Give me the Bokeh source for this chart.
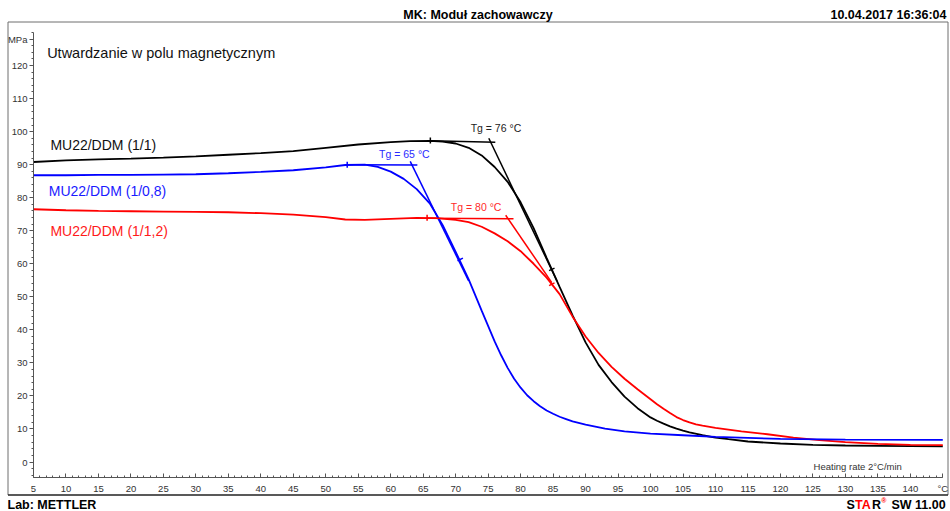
import math
from bokeh.plotting import figure
from bokeh.models import Range1d, LinearAxis, FixedTicker
from bokeh.core.properties import value
from bokeh.embed import file_html
from bokeh.resources import INLINE

# ---------------- data ----------------
temp_black = [5, 10, 15, 20, 25, 30, 35, 40, 45, 50, 55, 60, 63, 66, 68, 70, 72, 74, 76, 78,
              80, 82, 84, 86, 88, 90, 92, 94, 96, 98, 100, 101, 102, 103, 104, 105, 106, 108,
              110, 112, 115, 120, 125, 130, 135, 140, 145]
mod_black = [90.8, 91.3, 91.6, 91.8, 92.1, 92.5, 93.0, 93.5, 94.1, 95.1, 96.1, 96.8, 97.1, 97.2,
             97.0, 96.4, 95.1, 92.8, 89.3, 84.8, 78.6, 70.8, 61.8, 53.0, 44.4, 36.2, 29.4, 24.2,
             19.8, 16.3, 13.5, 12.5, 11.6, 10.8, 10.1, 9.5, 9.0, 8.1, 7.4, 6.9, 6.2, 5.6, 5.2,
             5.0, 4.9, 4.8, 4.7]

temp_blue = [5, 10, 15, 20, 25, 30, 35, 40, 45, 50, 53, 56, 58, 60, 62, 64, 66, 68, 70, 72, 74,
             76, 77, 78, 79, 80, 81, 82, 83, 84, 85, 86, 87, 88, 90, 93, 96, 100, 105, 110, 115,
             120, 130, 145]
mod_blue = [86.8, 86.8, 86.9, 86.9, 87.0, 87.1, 87.4, 87.8, 88.3, 89.2, 89.9, 90.0, 89.3, 87.9,
            85.7, 82.6, 78.3, 71.7, 63.6, 55.3, 45.8, 36.5, 32.3, 28.5, 25.2, 22.5, 20.2, 18.4,
            16.9, 15.6, 14.6, 13.7, 13.0, 12.3, 11.3, 10.1, 9.3, 8.6, 8.1, 7.6, 7.3, 7.0, 6.8,
            6.7]

temp_red = [5, 10, 15, 20, 25, 30, 35, 40, 45, 50, 53, 56, 60, 64, 67, 70, 72, 74, 76, 78, 80,
            82, 84, 86, 88, 90, 92, 94, 96, 98, 100, 101, 102, 103, 104, 105, 106, 107, 108,
            110, 114, 118, 122, 126, 130, 135, 140, 145]
mod_red = [76.5, 76.2, 76.0, 75.9, 75.8, 75.7, 75.6, 75.3, 74.9, 74.1, 73.4, 73.3, 73.6, 73.9,
           73.8, 73.3, 72.6, 71.2, 69.2, 66.8, 63.8, 60.0, 55.8, 50.8, 44.0, 38.0, 33.0, 28.8,
           25.2, 22.0, 19.0, 17.5, 16.1, 14.8, 13.6, 12.7, 12.0, 11.4, 11.0, 10.3, 9.3, 8.4,
           7.4, 6.6, 6.0, 5.5, 5.2, 5.1]

# Tg evaluation constructions: baseline and tangent segments, limit marks
base_black = ([66.1, 76.1], [97.2, 96.8])
tang_black = ([75.1, 85.6], [98.0, 54.8])
marks_black = ([66.1, 84.8], [97.3, 58.3])
base_blue = ([53.3, 64.1], [90.0, 89.9])
tang_blue = ([63.0, 72.0], [91.0, 54.8])
marks_blue = ([53.3, 70.7], [90.0, 61.3])
base_red = ([65.6, 78.9], [73.8, 73.6])
tang_red = ([77.7, 84.8], [74.7, 54.3])
marks_red = ([65.6, 84.8], [73.9, 53.8])

tg_text = ["Tg = 76 °C", "Tg = 65 °C", "Tg = 80 °C"]
tg_pos_x = [76.2, 62.1, 73.15]
tg_pos_y = [101.0, 93.3, 77.1]

series_names = ["MU22/DDM (1/1)", "MU22/DDM (1/0,8)", "MU22/DDM (1/1,2)"]
series_pos_x = [7.6, 7.35, 7.6]
series_pos_y = [96.1, 82.0, 69.9]

x_ticks = list(range(5, 146, 5))
x_minor = list(range(5, 146))
y_ticks = list(range(0, 121, 10)) + [128]
y_minor = list(range(-4, 131, 2))
x_overrides = {145: "°C"}
y_overrides = {128: "MPa"}

subtitle = "Utwardzanie w polu magnetycznym"
header = "MK: Moduł zachowawczy"
date_text = "10.04.2017 16:36:04"
lab_text = "Lab: METTLER"
rate_text = "Heating rate 2°C/min"

# ---------------- layout ----------------
W, H = 950, 511
X_MIN, X_MAX = 5, 145
Y_MIN, Y_MAX = -4.6, 130
PX_XL, PX_XR = 33, 942.3     # pixel of X_MIN / X_MAX
PX_YT, PX_YB = 32, 476.7     # pixel of Y_MAX / Y_MIN
SX = (PX_XR - PX_XL) / (X_MAX - X_MIN)
SY = (PX_YB - PX_YT) / (Y_MAX - Y_MIN)


def fx(px):
    return X_MIN + (px - PX_XL) / SX


def fy(py):
    return Y_MAX - (py - PX_YT) / SY


FONT = value("Liberation Sans")
BLACK, BLUE, RED = "#000000", "#0000ff", "#ff0000"

p = figure(width=W, height=H,
           x_range=Range1d(fx(0), fx(W)), y_range=Range1d(fy(H), fy(0)),
           output_backend="svg", toolbar_location=None,
           x_axis_location=None, y_axis_location=None,
           min_border_left=0, min_border_right=0, min_border_top=0, min_border_bottom=0)
p.outline_line_color = None
p.background_fill_color = "white"
p.border_fill_color = "white"
p.grid.visible = False

# outer frame
bl, br, bt, bb = 7.5, 947.5, 21.5, 494.5
p.segment(x0=[fx(bl), fx(bl), fx(br)], y0=[fy(bt), fy(bt), fy(bt)],
          x1=[fx(br), fx(bl), fx(br)], y1=[fy(bt), fy(bb), fy(bb)],
          line_color="#6e6e6e", line_width=1)
p.segment(x0=[fx(bl)], y0=[fy(bb)], x1=[fx(br)], y1=[fy(bb)], line_color="#222222", line_width=1.3)

# axes
xaxis = LinearAxis(fixed_location=Y_MIN, bounds=(X_MIN, X_MAX),
                   ticker=FixedTicker(ticks=x_ticks, minor_ticks=x_minor),
                   major_label_overrides=x_overrides)
xaxis.major_tick_in, xaxis.major_tick_out = 4, 0
xaxis.minor_tick_in, xaxis.minor_tick_out = 2, 0
xaxis.major_label_standoff = 6
yaxis = LinearAxis(fixed_location=X_MIN, bounds=(Y_MIN, Y_MAX),
                   ticker=FixedTicker(ticks=y_ticks, minor_ticks=y_minor),
                   major_label_overrides=y_overrides)
yaxis.major_tick_in, yaxis.major_tick_out = 0, 4
yaxis.minor_tick_in, yaxis.minor_tick_out = 0, 2
yaxis.major_label_standoff = 2
for ax in (xaxis, yaxis):
    ax.axis_line_color = "#555555"
    ax.major_tick_line_color = "#555555"
    ax.minor_tick_line_color = "#555555"
    ax.major_label_text_font = "Liberation Sans"
    ax.major_label_text_font_size = "9.5px"
    ax.major_label_text_color = "#333333"
p.add_layout(xaxis, "below")
p.add_layout(yaxis, "left")

# curves
p.line(temp_black, mod_black, line_color=BLACK, line_width=1.8)
p.line(temp_red, mod_red, line_color=RED, line_width=1.8)
p.line(temp_blue, mod_blue, line_color=BLUE, line_width=1.8)

# constructions
for base, tang, marks, col in ((base_black, tang_black, marks_black, BLACK),
                               (base_blue, tang_blue, marks_blue, BLUE),
                               (base_red, tang_red, marks_red, RED)):
    p.line(base[0], base[1], line_color=col, line_width=1.5)
    p.line(tang[0], tang[1], line_color=col, line_width=1.5)
    p.scatter(marks[0], marks[1], marker="dash", size=6, angle=[math.pi / 2, 0.45],
              line_color=col, line_width=1.5)

# texts in plot
p.text(x=tg_pos_x, y=tg_pos_y, text=tg_text, text_color=["#222222", "#2a2aff", "#ff2a2a"],
       text_font=FONT, text_font_size="10.5px", text_align="center", text_baseline="middle")
p.text(x=series_pos_x, y=series_pos_y, text=series_names, text_color=["#111111", "#1a1aff", "#ff1a1a"],
       text_font=FONT, text_font_size="14px", text_align="left", text_baseline="middle")
p.text(x=[7.1], y=[123.7], text=[subtitle], text_color="#111111",
       text_font=FONT, text_font_size="14.5px", text_align="left", text_baseline="middle")
p.text(x=[138.7], y=[-1.3], text=[rate_text], text_color="#333333",
       text_font=FONT, text_font_size="9.5px", text_align="right", text_baseline="middle")

# header / footer
p.text(x=[fx(477.5)], y=[fy(14)], text=[header], text_color="#000000", text_font=FONT,
       text_font_size="12.5px", text_font_style="bold", text_align="center", text_baseline="middle")
p.text(x=[fx(946)], y=[fy(14)], text=[date_text], text_color="#000000", text_font=FONT,
       text_font_size="12.5px", text_font_style="bold", text_align="right", text_baseline="middle")
p.text(x=[fx(7)], y=[fy(504)], text=[lab_text], text_color="#000000", text_font=FONT,
       text_font_size="12.5px", text_font_style="bold", text_align="left", text_baseline="middle")

# STAR(R) SW 11.00 with coloured letters
star_parts = ["S", "TA", "R", "®", "SW 11.00"]
star_colors = ["#000000", "#ff0000", "#000000", "#ff0000", "#000000"]
star_sizes = ["12.5px", "12.5px", "12.5px", "7px", "12.5px"]
star_left = [846, 854.5, 871.5, 880.8, 891]
for part, col, fs, xl in zip(star_parts, star_colors, star_sizes, star_left):
    yy = 500 if part == "®" else 504
    p.text(x=[fx(xl)], y=[fy(yy)], text=[part], text_color=col, text_font=FONT,
           text_font_size=fs, text_font_style="bold", text_align="left", text_baseline="middle")

open("out.html", "w", encoding="utf-8").write(file_html(p, INLINE))
